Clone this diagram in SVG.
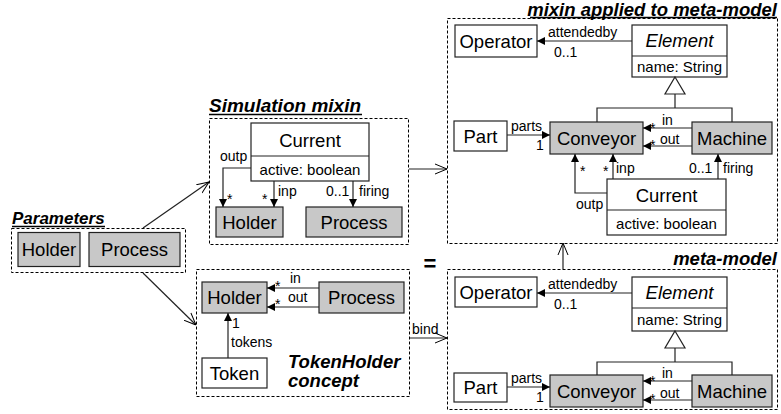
<svg xmlns="http://www.w3.org/2000/svg" width="781" height="414" viewBox="0 0 781 414">
<style>
text{font-family:"Liberation Sans",Arial,sans-serif;fill:#000}
.frame{fill:none;stroke:#000;stroke-width:1;stroke-dasharray:3,2}
.title{font-size:17px;font-weight:bold;font-style:italic}
.title2{font-size:18.5px;font-weight:bold;font-style:italic}
.cls{fill:#fff;stroke:#222;stroke-width:1.2}
.g{fill:#c8c8c8;stroke:#222;stroke-width:1.2}
.name{font-size:18.5px;text-anchor:middle}
.attr{font-size:15px;text-anchor:middle}
.lbl{font-size:14px}
.c{fill:none;stroke:#222;stroke-width:1.2}
.ul{stroke:#000;stroke-width:1.3}
</style>
<defs>
<marker id="fa" viewBox="0 0 10 10" refX="10" refY="5" markerWidth="8" markerHeight="8" markerUnits="userSpaceOnUse" orient="auto"><path d="M0,0 L10,5 L0,10 z" fill="#000"/></marker>
<marker id="oa" viewBox="0 0 12 12" refX="12" refY="6" markerWidth="12" markerHeight="12" markerUnits="userSpaceOnUse" orient="auto"><path d="M0,1 L12,6 L0,11" fill="none" stroke="#000" stroke-width="1"/></marker>
</defs>

<g id="parameters">
<rect class="frame" x="11.5" y="228.5" width="174" height="44"/>
<text class="title" x="12" y="224">Parameters</text>
<line class="ul" x1="12" y1="226.5" x2="105" y2="226.5"/>
<rect class="g" x="18" y="232.5" width="62" height="34"/>
<text class="name" x="49" y="256">Holder</text>
<rect class="g" x="89" y="232.5" width="91" height="34"/>
<text class="name" x="134.5" y="256">Process</text>
</g>

<g id="simulation-mixin">
<rect class="frame" x="209.5" y="118.5" width="199" height="126"/>
<text class="title" x="209" y="112" style="font-size:19px">Simulation mixin</text>
<line class="ul" x1="209" y1="114.5" x2="362" y2="114.5"/>
<rect class="cls" x="251" y="123" width="118" height="58"/>
<line class="cls" x1="251" y1="156" x2="369" y2="156"/>
<text class="name" x="310" y="147">Current</text>
<text class="attr" x="310" y="175">active: boolean</text>
<rect class="g" x="216" y="207" width="67" height="30"/>
<text class="name" x="249.5" y="229">Holder</text>
<rect class="g" x="306" y="207" width="96" height="30"/>
<text class="name" x="354" y="229">Process</text>
</g>

<g id="tokenholder-concept">
<rect class="frame" x="196.5" y="269.5" width="213" height="127"/>
<rect class="g" x="202" y="282" width="65" height="31"/>
<text class="name" x="234.5" y="304">Holder</text>
<rect class="g" x="319" y="282" width="85" height="31"/>
<text class="name" x="361.5" y="304">Process</text>
<rect class="cls" x="202" y="358" width="65" height="30"/>
<text class="name" x="234.5" y="380">Token</text>
<text class="title2" x="288" y="368">TokenHolder</text>
<text class="title2" x="288" y="387">concept</text>
</g>

<g id="mixin-applied">
<rect class="frame" x="447.5" y="18.5" width="330" height="225"/>
<text class="title2" x="777" y="15.5" text-anchor="end">mixin applied to meta-model</text>
<line class="ul" x1="530" y1="17.5" x2="777" y2="17.5"/>
<rect class="cls" x="455" y="25" width="82" height="32"/>
<text class="name" x="496" y="47.5">Operator</text>
<rect class="cls" x="632" y="25" width="95" height="52"/>
<line class="cls" x1="632" y1="56" x2="727" y2="56"/>
<text class="name" x="679.5" y="47" font-style="italic">Element</text>
<text class="attr" x="679.5" y="72">name: String</text>
<rect class="cls" x="454" y="121" width="53" height="30"/>
<text class="name" x="480.5" y="142.5">Part</text>
<rect class="g" x="550" y="122" width="93" height="32"/>
<text class="name" x="596.5" y="144.5">Conveyor</text>
<rect class="g" x="692" y="122" width="80" height="32"/>
<text class="name" x="732" y="144.5">Machine</text>
<rect class="cls" x="607" y="179" width="119" height="56"/>
<line class="cls" x1="607" y1="210" x2="726" y2="210"/>
<text class="name" x="666.5" y="202">Current</text>
<text class="attr" x="666.5" y="229">active: boolean</text>
</g>

<g id="meta-model">
<rect class="frame" x="447.5" y="269.5" width="330" height="140"/>
<text class="title2" x="777" y="265" text-anchor="end">meta-model</text>
<rect class="cls" x="455" y="277" width="82" height="30"/>
<text class="name" x="496" y="298.5">Operator</text>
<rect class="cls" x="632" y="277" width="95" height="54"/>
<line class="cls" x1="632" y1="308" x2="727" y2="308"/>
<text class="name" x="679.5" y="299" font-style="italic">Element</text>
<text class="attr" x="679.5" y="325">name: String</text>
<rect class="cls" x="454" y="373" width="53" height="29"/>
<text class="name" x="480.5" y="394">Part</text>
<rect class="g" x="550" y="375" width="93" height="32"/>
<text class="name" x="596.5" y="397.5">Conveyor</text>
<rect class="g" x="692" y="375" width="80" height="32"/>
<text class="name" x="732" y="397.5">Machine</text>
</g>

<text x="430" y="271" font-size="22" font-weight="bold" text-anchor="middle">=</text>

<g id="connectors">
<line class="c" x1="143" y1="228" x2="209" y2="182" marker-end="url(#oa)"/>
<line class="c" x1="143" y1="273" x2="196" y2="325" marker-end="url(#oa)"/>
<line class="c" x1="409" y1="169" x2="447" y2="169" marker-end="url(#oa)"/>
<line class="c" x1="410" y1="338" x2="447" y2="338" marker-end="url(#oa)"/>
<text class="lbl" x="412" y="334">bind</text>
<line class="c" x1="563" y1="269" x2="563" y2="243" marker-end="url(#oa)"/>

<path class="c" d="M251,168 H223 V207" marker-end="url(#fa)"/>
<text class="lbl" x="220" y="161">outp</text>
<text class="lbl" x="227" y="204">*</text>
<path class="c" d="M274,181 V207" marker-end="url(#fa)"/>
<text class="lbl" x="262" y="204">*</text>
<text class="lbl" x="278" y="196">inp</text>
<path class="c" d="M353,181 V207" marker-end="url(#fa)"/>
<text class="lbl" x="326" y="196">0..1</text>
<text class="lbl" x="359" y="196">firing</text>

<path class="c" d="M319,288 H267" marker-end="url(#fa)"/>
<text class="lbl" x="275" y="291">*</text>
<text class="lbl" x="290" y="283">in</text>
<path class="c" d="M319,307 H267" marker-end="url(#fa)"/>
<text class="lbl" x="275" y="309">*</text>
<text class="lbl" x="288" y="302">out</text>
<path class="c" d="M228,358 V313" marker-end="url(#fa)"/>
<text class="lbl" x="232" y="328">1</text>
<text class="lbl" x="231" y="347">tokens</text>

<path class="c" d="M632,41 H537" marker-end="url(#fa)"/>
<text class="lbl" x="548" y="37">attendedby</text>
<text class="lbl" x="554" y="57">0..1</text>
<path d="M675,77 L685,94 L665,94 Z" fill="#fff" stroke="#222" stroke-width="1.2"/>
<path class="c" d="M675,94 V108 M597,122 V108 H732 V122"/>
<path class="c" d="M507,135 H550" marker-end="url(#fa)"/>
<text class="lbl" x="511" y="131">parts</text>
<text class="lbl" x="536" y="150">1</text>
<path class="c" d="M692,128 H643" marker-end="url(#fa)"/>
<text class="lbl" x="650" y="133">*</text>
<text class="lbl" x="662" y="125">in</text>
<path class="c" d="M692,146 H643" marker-end="url(#fa)"/>
<text class="lbl" x="650" y="150">*</text>
<text class="lbl" x="660" y="144">out</text>
<path class="c" d="M607,193 H575 V154" marker-end="url(#fa)"/>
<text class="lbl" x="580" y="176">*</text>
<text class="lbl" x="576" y="209">outp</text>
<path class="c" d="M613,179 V154" marker-end="url(#fa)"/>
<text class="lbl" x="603" y="176">*</text>
<text class="lbl" x="616" y="173">inp</text>
<path class="c" d="M718,179 V154" marker-end="url(#fa)"/>
<text class="lbl" x="689" y="173">0..1</text>
<text class="lbl" x="723" y="173">firing</text>

<path class="c" d="M632,293 H537" marker-end="url(#fa)"/>
<text class="lbl" x="548" y="289">attendedby</text>
<text class="lbl" x="554" y="309">0..1</text>
<path d="M675,331 L685,348 L665,348 Z" fill="#fff" stroke="#222" stroke-width="1.2"/>
<path class="c" d="M675,348 V362 M597,375 V362 H732 V375"/>
<path class="c" d="M507,387 H550" marker-end="url(#fa)"/>
<text class="lbl" x="511" y="383">parts</text>
<text class="lbl" x="536" y="402">1</text>
<path class="c" d="M692,381 H643" marker-end="url(#fa)"/>
<text class="lbl" x="650" y="386">*</text>
<text class="lbl" x="662" y="378">in</text>
<path class="c" d="M692,400 H643" marker-end="url(#fa)"/>
<text class="lbl" x="650" y="404">*</text>
<text class="lbl" x="660" y="398">out</text>
</g>
</svg>
